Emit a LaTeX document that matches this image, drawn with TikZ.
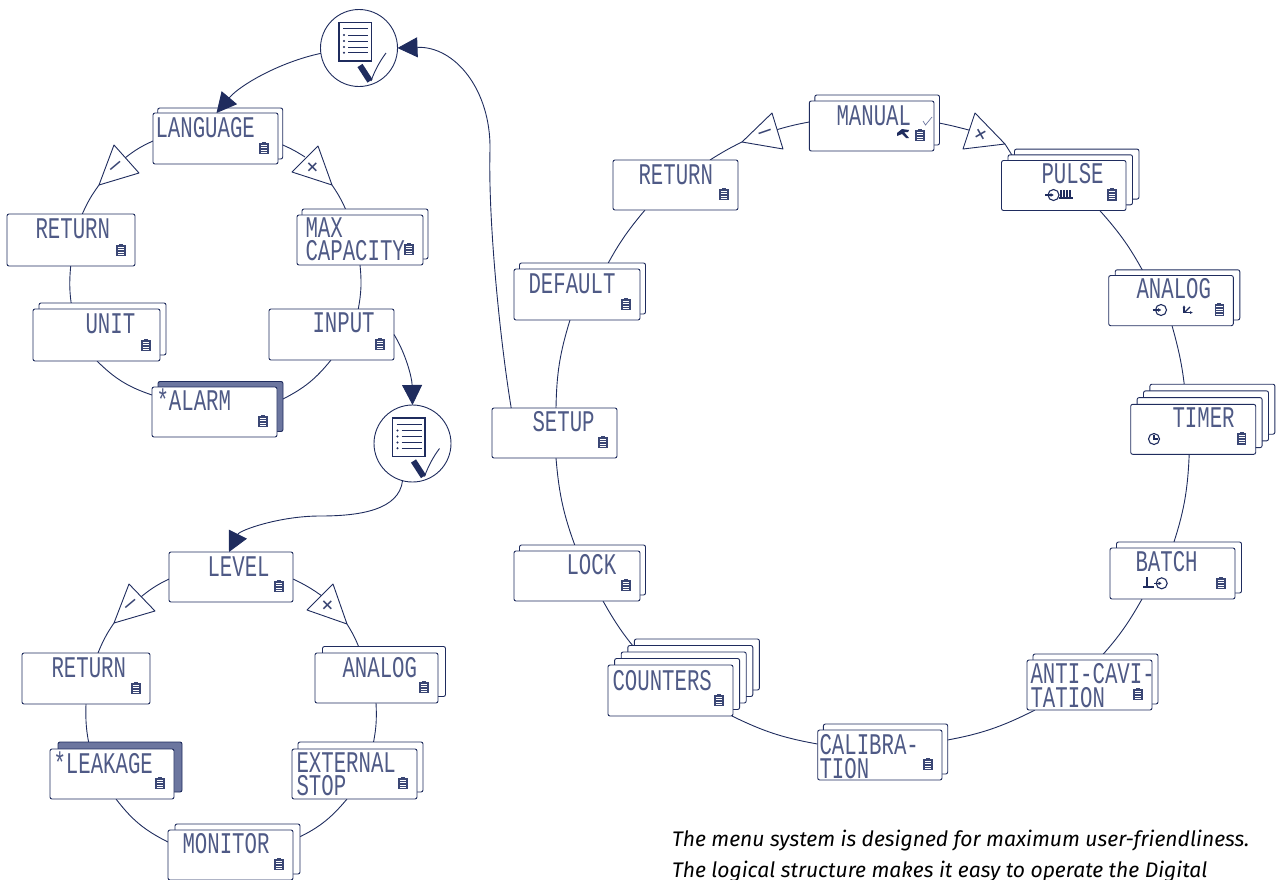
\documentclass[tikz,border=0pt]{standalone}
\usepackage{fontspec}
\usetikzlibrary{arrows.meta}
\newfontfamily\lcdfont[FakeStretch=0.69]{Liberation Mono}
\newfontfamily\notefont{Fira Sans}
\newfontfamily\symfont{Liberation Sans}
\definecolor{navy}{HTML}{1F2C5E}
\definecolor{lcdink}{HTML}{3A4674}
\definecolor{lcdtext}{HTML}{4F5A86}
\definecolor{slate}{HTML}{6C769F}
\pgfdeclarelayer{bg}
\pgfsetlayers{bg,main}
\tikzset{
  x=1pt,y=-1pt,
  conn/.style={draw=navy,line width=0.9pt},
  bigarrow/.style={draw=navy,line width=0.9pt,-{Triangle[length=20pt,width=20pt,fill=navy]}},
  backcard/.style={draw=navy,line width=0.9pt,fill=white,rounded corners=2pt},
  shadecard/.style={draw=navy,line width=0.9pt,fill=slate,rounded corners=2pt},
  frontcard/.style={draw=navy,line width=0.9pt,fill=white,rounded corners=2pt,inner sep=0pt,outer sep=0pt},
  lcdtxt/.style={anchor=base west,inner sep=0pt,outer sep=0pt,text=lcdtext,xshift=1.5pt,font=\lcdfont\fontsize{30}{23.5}\selectfont},
  lcdtwo/.style={lcdtxt,anchor=north west,align=left},
  notetxt/.style={anchor=base west,inner sep=0pt,outer sep=0pt,text=black,font=\notefont\itshape\fontsize{21.1}{21.1}\selectfont},
  trishape/.style={draw=navy,line width=0.9pt,fill=white,line join=round},
  trisym/.style={inner sep=0pt,outer sep=0pt,text=lcdink,font=\symfont\fontsize{23}{23}\selectfont},
  roundstep/.style={draw=navy,line width=0.9pt,fill=white,circle,minimum size=77pt,inner sep=0pt,outer sep=0pt},
  glyph/.style={draw=navy,line width=1.1pt},
}
% name x1 y1 x2 y2 n dx dy
\newcommand\lcdcard[8]{%
  \ifnum#6>0
    \foreach \i in {#6,...,1}{\draw[backcard] ({#2+\i*#7},{#3-\i*#8}) rectangle ({#4+\i*#7},{#5-\i*#8});}
  \fi
  \pgfmathsetmacro\cw{#4-#2}\pgfmathsetmacro\ch{#5-#3}
  \node[frontcard,minimum width=\cw pt,minimum height=\ch pt] (#1) at ({(#2+#4)/2},{(#3+#5)/2}) {};
  \memoicon{#4-14}{#5-16}}
\newcommand\alertcard[8]{%
  \draw[shadecard] ({#2+#7},{#3-#8}) rectangle ({#4+#7},{#5-#8});
  \pgfmathsetmacro\cw{#4-#2}\pgfmathsetmacro\ch{#5-#3}
  \node[frontcard,minimum width=\cw pt,minimum height=\ch pt] (#1) at ({(#2+#4)/2},{(#3+#5)/2}) {};
  \memoicon{#4-14}{#5-16}}
\newcommand\memoicon[2]{%
  \begin{scope}[shift={({#1},{#2})}]
    \fill[lcdink] (-4.7,-5.5) rectangle (4.7,6.2);
    \fill[lcdink] (-2,-6.5) rectangle (2,-5);
    \foreach \yy in {-3,-0.6,1.8,4.2}{\draw[white,line width=0.6pt] (-3.2,\yy) -- (3.2,\yy);}
  \end{scope}}
\newcommand\tri[9]{%
  \draw[trishape] (#2,#3) -- (#4,#5) -- (#6,#7) -- cycle;
  \node[trisym,rotate=#9] (#1) at ({(#2+#4+#6)/3},{(#3+#5+#7)/3}) {#8};}
% a dx dy b dx dy bend
\newcommand\link[7]{\draw[conn] ([shift={(#2,#3)}]#1.center) to[bend right=#7] ([shift={(#5,#6)}]#4.center);}
\newcommand\checkart{%
  \draw[navy,line width=1.1pt,fill=white] (-20,-25.5) rectangle (12.5,13);
  \draw[navy,line width=1pt] (-16,-19.5) -- (9,-19.5);
  \foreach \yy in {-13,-7,-1,4.7}{
    \draw[navy,line width=1pt] (-11,\yy) -- (9,\yy);
    \fill[navy] (-15,\yy) circle (1.1);}
  \draw[navy,line width=6pt] (1,17.5) -- (11,33);
  \draw[navy,line width=0.9pt] (12,33) .. controls (16,22) and (21,13) .. (27,5);}
\begin{document}
\begin{tikzpicture}
\useasboundingbox (0,0) rectangle (1280,879);
% --- first ring
\lcdcard{lang}{153}{113}{278}{164}{1}{4.7}{5}
\lcdcard{reta}{7}{214}{135}{266}{0}{0}{0}
\lcdcard{maxc}{297}{215}{423}{265}{1}{5}{6}
\lcdcard{unit}{33}{309}{160}{361}{1}{6}{6}
\lcdcard{inp}{269}{309}{394}{360}{0}{0}{0}
\alertcard{alarm}{152}{387}{277}{437}{1}{6}{5.5}
\node[roundstep] (chka) at (359,48) {};
\begin{scope}[shift={(359,48)}]\checkart\end{scope}
\node[roundstep] (chkb) at (412.5,443.5) {};
\begin{scope}[shift={(412.5,443.5)}]\checkart\end{scope}
\tri{tma}{114}{145}{139}{173}{99}{185}{–}{40}
\tri{tpa}{318}{146}{292}{172}{332}{185}{+}{45}
% --- second ring
\lcdcard{lev}{169}{552}{293}{602}{0}{0}{0}
\lcdcard{retb}{22}{653}{150}{704}{0}{0}{0}
\lcdcard{anb}{315}{653}{438}{703}{1}{7.5}{6.5}
\alertcard{leak}{50}{749}{174}{799}{1}{8}{7}
\lcdcard{ext}{292}{749}{417}{799}{1}{6}{7}
\lcdcard{mon}{168}{830}{293}{880}{1}{7}{6}
\tri{tmb}{129}{584}{155}{611}{114}{623}{–}{40}
\tri{tpb}{333}{584}{307}{610}{347}{624}{+}{45}
% --- large ring
\lcdcard{man}{809.3}{101}{934}{151}{1}{5.5}{6}
\lcdcard{retc}{613}{160}{738}{210}{0}{0}{0}
\lcdcard{pul}{1001.5}{160.5}{1126}{210.5}{2}{6.5}{5.7}
\lcdcard{anc}{1108.7}{275.5}{1233.3}{325.7}{1}{6.5}{5.7}
\lcdcard{tim}{1130.7}{404.3}{1255.7}{454.3}{3}{6.4}{6.7}
\lcdcard{def}{514}{269}{640}{320}{1}{5.5}{6}
\lcdcard{setup}{492}{408}{617}{458}{0}{0}{0}
\lcdcard{lock}{514}{551}{640}{601}{1}{5.5}{6}
\lcdcard{bat}{1110}{548}{1235}{599}{1}{6.5}{6}
\lcdcard{cnt}{608}{665}{733}{716}{4}{6.6}{6.5}
\lcdcard{cal}{817.7}{730}{942}{780}{1}{5.7}{6}
\lcdcard{ant}{1027}{660}{1152}{710}{1}{6}{6}
\tri{tmc}{772}{113}{783}{149}{742}{142}{–}{19}
\tri{tpc}{975}{113}{1005}{144}{963}{149}{+}{30}
% --- display texts
\node[lcdtxt] (t1) at (154,137) {LANGUAGE};
\node[lcdtxt] (t2) at (34,238) {RETURN};
\node[lcdtwo] (t3) at (304,217.5) {MAX\\CAPACITY};
\node[lcdtxt] (t5) at (84,333) {UNIT};
\node[lcdtxt] (t6) at (311,332) {INPUT};
\node[lcdtxt] (t7) at (155,410) {*ALARM};
\node[lcdtxt] (t8) at (206,576) {LEVEL};
\node[lcdtxt] (t9) at (50,677) {RETURN};
\node[lcdtxt] (t10) at (341,677) {ANALOG};
\node[lcdtxt] (t11) at (52,773) {*LEAKAGE};
\node[lcdtwo] (t12) at (295,752.5) {EXTERNAL\\STOP};
\node[lcdtxt] (t14) at (181,853) {MONITOR};
\node[lcdtxt] (t15) at (835,125) {MANUAL};
\node[lcdtxt] (t16) at (637,184) {RETURN};
\node[lcdtxt] (t17) at (1040,183) {PULSE};
\node[lcdtxt] (t18) at (1135,298) {ANALOG};
\node[lcdtxt] (t19) at (1171,427) {TIMER};
\node[lcdtxt] (t20) at (527,293) {DEFAULT};
\node[lcdtxt] (t21) at (531,431) {SETUP};
\node[lcdtxt] (t22) at (565,574) {LOCK};
\node[lcdtxt] (t23) at (1134,571) {BATCH};
\node[lcdtxt] (t24) at (611,690) {COUNTERS};
\node[lcdtwo] (t25) at (1029,663.5) {ANTI-CAVI-\\TATION};
\node[lcdtwo] (t27) at (818,734.5) {CALIBRA-\\TION};
% --- small display glyphs
\begin{scope}[glyph]
  % pulse
  \draw (1053.5,195) circle (5.5);
  \draw[-{Latex[length=3.5pt,width=4pt]}] (1045,195) -- (1054,195);
  \foreach \xx in {1061,1064,1067,1070}{\draw[line width=1.5pt] (\xx,190) -- (\xx,198);}
  \draw (1059,198) -- (1073,198);
  % analog
  \draw (1161,310) circle (5.5);
  \draw[-{Latex[length=3.5pt,width=4pt]}] (1152.5,310) -- (1161.5,310);
  \draw[{Latex[length=3pt,width=3pt]}-{Latex[length=3pt,width=3pt]},line width=1.2pt] (1184,305) -- (1184,312.5) -- (1193,312.5);
  \draw[line width=1.2pt] (1185,312) -- (1190,307);
  % timer
  \draw (1154,439) circle (5.5);
  \draw (1154,434.5) -- (1154,439) -- (1158,439);
  % batch
  \draw (1161.7,583.3) circle (5.5);
  \draw[-{Latex[length=3.5pt,width=4pt]}] (1154,583.3) -- (1162,583.3);
  \draw[line width=1.8pt] (1147,577) -- (1147,587);
  \draw[line width=1.3pt] (1143,587) -- (1154,587);
  % manual hand and tick
  \fill[navy] (897,133) -- (902,129) -- (909,130) -- (908,132) -- (904,132) -- (909,138) -- (906,138) -- (902,134) -- (897,136) -- cycle;
  \draw[slate,line width=0.7pt] (923,121) -- (925.5,125) -- (932,117);
\end{scope}
% --- connectors below the cards
\begin{pgfonlayer}{bg}
\link{lang}{-62.5}{2.5}{tma}{7.7}{-9.7}{7}
\link{tma}{-18.3}{17.3}{reta}{11.3}{-26}{6}
\link{reta}{-0.3}{26}{unit}{-24.5}{-26}{7}
\link{unit}{0.5}{26}{alarm}{-62.5}{-17}{13}
\link{alarm}{68.5}{-13}{inp}{-0.5}{25.5}{12}
\link{inp}{26.8}{-25.5}{maxc}{0}{25}{8}
\link{maxc}{-12}{-25}{tpa}{18}{17.3}{6}
\link{tpa}{-9}{-10.7}{lang}{62.5}{4.5}{5}
\link{lev}{-62}{2}{tmb}{7}{-8}{7}
\link{tmb}{-18.7}{17}{retb}{12}{-25.5}{6}
\link{retb}{0}{25.5}{leak}{-22}{-25}{7}
\link{leak}{4}{25}{mon}{-62.5}{-13}{13}
\link{mon}{62.5}{-15}{ext}{-7.5}{25}{13}
\link{ext}{17.5}{-25}{anb}{-0.5}{25}{8}
\link{anb}{-15.5}{-25}{tpb}{18}{18}{6}
\link{tpb}{-7}{-10}{lev}{62}{2}{5}
\link{man}{-62.4}{-4}{tmc}{10.3}{-4.7}{3}
\link{tmc}{-23.7}{7.3}{retc}{34.5}{-25}{3}
\link{retc}{-30.5}{25}{def}{28}{-25.5}{6}
\link{def}{-7}{25.5}{setup}{1.5}{-25}{8}
\link{setup}{1.5}{25}{lock}{0}{-25}{8}
\link{lock}{26}{25}{cnt}{-20.5}{-25.5}{7}
\link{cnt}{61.5}{25.5}{cal}{-62.3}{-11}{8}
\link{cal}{62}{-14}{ant}{-54.5}{25}{8.5}
\link{ant}{8.5}{-25}{bat}{-30.5}{25.5}{6.4}
\link{bat}{-0.5}{-25.5}{tim}{-4}{25}{8}
\link{tim}{-7}{-25}{anc}{1}{25}{5.5}
\link{anc}{-26}{-25.7}{pul}{36}{25}{6.7}
\link{pul}{-49}{-25.7}{tpc}{24}{8.7}{1}
\link{tpc}{-11}{-5}{man}{62.3}{-4}{2}
\end{pgfonlayer}
% --- large arrows
\draw[bigarrow] (chka.188) .. controls (280,62) and (240,85) .. ([shift={(1,-25.5)}]lang.center);
\draw[bigarrow] (setup.150) .. controls (500,340) and (488,220) .. (490,150) .. controls (491,90) and (455,46) .. (chka.east);
\draw[bigarrow] (inp.east) .. controls (406,354) and (412,378) .. (chkb.north);
\draw[bigarrow] (chkb.255) .. controls (399,510) and (360,516) .. (320,516) .. controls (280,516) and (240,530) .. ([shift={(-2,-25)}]lev.center);
% --- note
\node[notetxt] (n1) at (672,846) {The menu system is designed for maximum user-friendliness.};
\node[notetxt] (n2) at (672,877) {The logical structure makes it easy to operate the Digital};
\end{tikzpicture}
\end{document}
